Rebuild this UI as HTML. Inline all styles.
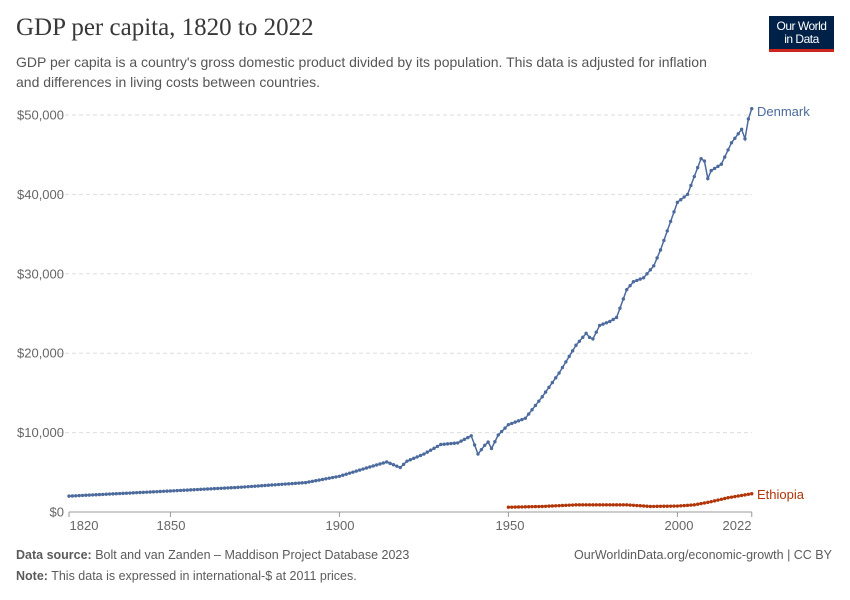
<!DOCTYPE html>
<html><head><meta charset="utf-8"><style>
body{margin:0;width:850px;height:600px;background:#fff;font-family:"Liberation Sans",sans-serif;overflow:hidden;position:relative}
.t{position:absolute;left:16px;top:14px;font-family:"Liberation Serif",serif;font-size:25px;color:#383838}
.s{position:absolute;left:16px;top:52px;font-size:14px;line-height:20px;color:#555;width:800px}
.logo{position:absolute;left:769px;top:16px;width:65px;height:36px;background:#002147;border-bottom:3px solid #ce261e;color:#fff;font-size:12px;line-height:13px;text-align:center;padding-top:4px;box-sizing:border-box;letter-spacing:-0.5px}
.f{position:absolute;font-size:12.5px;color:#5b5b5b}
</style></head><body>
<div class="t">GDP per capita, 1820 to 2022</div>
<div class="s">GDP per capita is a country's gross domestic product divided by its population. This data is adjusted for inflation<br>and differences in living costs between countries.</div>
<div class="logo">Our World<br>in Data</div>
<svg id="c" width="850" height="600" style="position:absolute;left:0;top:0"></svg>
<div class="f" style="left:16px;top:548px"><b>Data source:</b> Bolt and van Zanden – Maddison Project Database 2023</div>
<div class="f" style="right:18px;top:548px">OurWorldinData.org/economic-growth | CC BY</div>
<div class="f" style="left:16px;top:569px"><b>Note:</b> This data is expressed in international-$ at 2011 prices.</div>
<script>
var s='';
function X(y){return 69+(y-1820)*3.38}
function Y(v){return 512-v*0.00794}
[0,10000,20000,30000,40000,50000].forEach(function(v,i){
 var y=Y(v);
 if(v>0)s+='<line x1="58" x2="752" y1="'+y+'" y2="'+y+'" stroke="#ddd" stroke-dasharray="4,3"/>';
 s+='<text x="64" y="'+(y+4.5)+'" text-anchor="end" font-size="13" fill="#666" font-family="Liberation Sans">'+(v?'$'+(v/1000)+',000':'$0')+'</text>';
});
s+='<line x1="69" x2="752" y1="512" y2="512" stroke="#999"/>';
[[1820,84],[1850,171],[1900,340],[1950,510],[2000,679],[2022,737]].forEach(function(a){
 s+='<line x1="'+X(a[0])+'" x2="'+X(a[0])+'" y1="512" y2="517" stroke="#999"/>';
 s+='<text x="'+a[1]+'" y="530" text-anchor="middle" font-size="13" fill="#666" font-family="Liberation Sans">'+a[0]+'</text>';
});
var dk=[[1820,2000],[1850,2650],[1870,3100],[1880,3400],[1890,3700],[1900,4500],[1910,5800],[1914,6300],[1918,5600],[1920,6400],[1925,7300],[1930,8500],[1935,8700],[1939,9600],[1941,7300],[1943,8400],[1944,8800],[1945,8000],[1947,9700],[1950,11000],[1955,11800],[1960,14500],[1965,17500],[1970,21000],[1973,22500],[1974,22000],[1975,21800],[1977,23500],[1980,24000],[1982,24500],[1985,28000],[1987,29000],[1990,29500],[1993,31000],[1995,33000],[2000,39000],[2003,40000],[2007,44500],[2008,44200],[2009,42000],[2010,43000],[2013,43800],[2016,46500],[2019,48200],[2020,47000],[2021,49500],[2022,50800]];
var et=[[1950,600],[1960,700],[1970,900],[1985,900],[1992,700],[2000,750],[2005,900],[2010,1300],[2015,1800],[2022,2300]];
function draw(k,c){
 var p=[],i=0;
 for(var y=k[0][0];y<=k[k.length-1][0];y++){
  while(k[i+1]&&k[i+1][0]<y)i++;
  var a=k[i],b=k[i+1]||a,v=b[0]==a[0]?a[1]:a[1]+(b[1]-a[1])*(y-a[0])/(b[0]-a[0]);
  p.push([X(y),Y(v)]);
 }
 s+='<polyline fill="none" stroke="'+c+'" stroke-width="1.5" points="'+p.map(function(q){return q.join(',')}).join(' ')+'"/>';
 p.forEach(function(q){s+='<circle cx="'+q[0]+'" cy="'+q[1]+'" r="1.7" fill="'+c+'"/>'});
}
draw(dk,'#4c6a9c');draw(et,'#b13507');
s+='<text x="757" y="116" font-size="13" fill="#4c6a9c" font-family="Liberation Sans">Denmark</text>';
s+='<text x="757" y="499" font-size="13" fill="#b13507" font-family="Liberation Sans">Ethiopia</text>';
document.getElementById('c').innerHTML=s;
</script>
</body></html>
